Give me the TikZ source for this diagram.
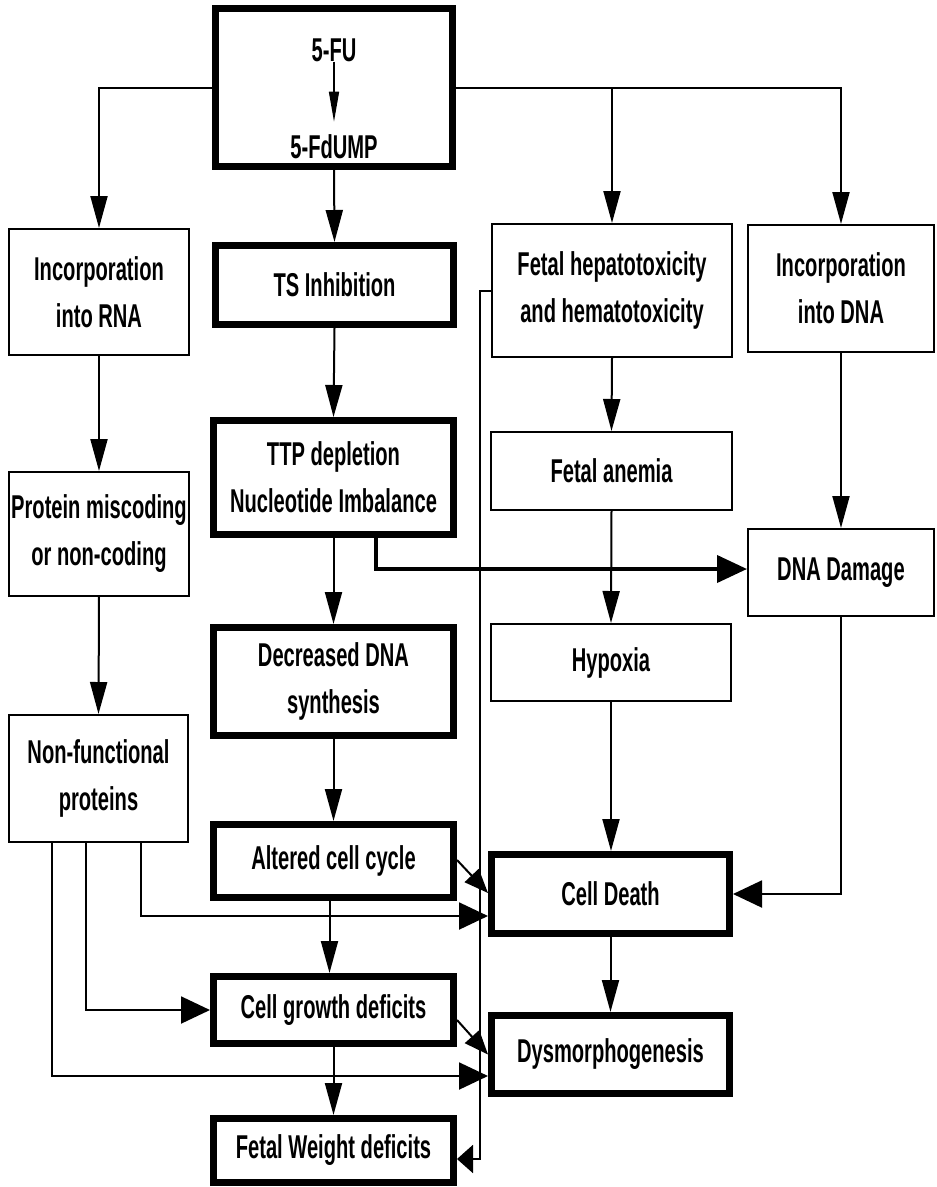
\documentclass[tikz,border=0pt]{standalone}
\usepackage{fontspec}
\setmainfont{Liberation Sans}[FakeStretch=0.61]
\usetikzlibrary{arrows.meta}
\begin{document}
\begin{tikzpicture}[x=1pt,y=-1pt,
  lbl/.style={inner sep=0pt, align=center, font=\bfseries\fontsize{33}{47}\selectfont},
  box/.style={lbl, draw=black, line width=2pt},
  tbox/.style={box, line width=7pt},
  conn/.style={line width=2pt},
  varr/.style={conn, -{Triangle[length=32pt,width=17pt]}},
  harr/.style={conn, -{Triangle[length=29pt,width=27pt]}},
  darr/.style={conn, -{Triangle[length=24pt,width=19pt]}},
  sarr/.style={conn, -{Triangle[length=16pt,width=28pt]}},
  iarr/.style={line width=1.5pt, -{Triangle[length=30pt,width=10pt]}}]
\useasboundingbox (0,0) rectangle (937,1187);
% top box
\node[tbox, minimum width=237pt, minimum height=158pt] (fu) at (334,87.5) {};
\node[lbl] (fu1) at (334,50) {5-FU};
\node[lbl] (fu2) at (334,147) {5-FdUMP};
\draw[iarr] (fu1.south) -- ([yshift=13pt]fu2.north);
% column 1
\node[box, minimum width=180pt, minimum height=126pt] (rna) at (99,292) {Incorporation\\into RNA};
\node[box, minimum width=180pt, minimum height=124pt] (prot) at (99,534) {Protein miscoding\\or non-coding};
\node[box, minimum width=179pt, minimum height=127pt] (nonf) at (98.5,778.5) {Non-functional\\proteins};
% column 2
\node[tbox, minimum width=238pt, minimum height=79pt] (ts) at (334.5,285) {TS Inhibition};
\node[tbox, minimum width=240pt, minimum height=114pt] (ttp) at (333.5,477.5) {TTP depletion\\Nucleotide Imbalance};
\node[tbox, minimum width=240pt, minimum height=108pt] (dec) at (333.5,681.5) {Decreased DNA\\synthesis};
\node[tbox, minimum width=240pt, minimum height=73pt] (alt) at (333.5,861) {Altered cell cycle};
\node[tbox, minimum width=240pt, minimum height=67pt] (cgd) at (333.5,1010) {Cell growth deficits};
\node[tbox, minimum width=240pt, minimum height=64pt] (fwd) at (333.5,1150.5) {Fetal Weight deficits};
% column 3
\node[box, minimum width=240pt, minimum height=133pt] (hep) at (612,290.5) {Fetal hepatotoxicity\\and hematotoxicity};
\node[box, minimum width=241pt, minimum height=78pt] (anem) at (611.5,471) {Fetal anemia};
\node[box, minimum width=240pt, minimum height=77pt] (hyp) at (611,662.5) {Hypoxia};
\node[tbox, minimum width=238pt, minimum height=79pt] (cd) at (610.5,894) {Cell Death};
\node[tbox, minimum width=238pt, minimum height=78pt] (dys) at (610.5,1054.5) {Dysmorphogenesis};
% column 4
\node[box, minimum width=186pt, minimum height=127pt] (idna) at (841,288.5) {Incorporation\\into DNA};
\node[box, minimum width=186pt, minimum height=87pt] (dnad) at (841,572.5) {DNA Damage};
% connectors
\draw[varr] (fu.west) -| (rna.north);
\draw[varr] (fu.east) -| (hep.north);
\draw[varr] (fu.east) -| (idna.north);
\draw[varr] (fu.south) -- (ts.north);
\draw[varr] (ts.south) -- (ttp.north);
\draw[varr] (ttp.south) -- (dec.north);
\draw[varr] (dec.south) -- (alt.north);
\draw[varr] ([xshift=-4pt]alt.south) -- ([xshift=-4pt]cgd.north);
\draw[varr] (cgd.south) -- (fwd.north);
\draw[varr] (rna.south) -- (prot.north);
\draw[varr] (prot.south) -- (nonf.north);
\draw[varr] (hep.south) -- (anem.north);
\draw[varr] (anem.south) -- (hyp.north);
\draw[varr] (hyp.south) -- (hyp.south |- cd.north);
\draw[varr] (cd.south) -- (dys.north);
\draw[varr] (idna.south) -- (dnad.north);
\draw[harr] (dnad.south) |- (cd.east);
\draw[conn, line width=4pt, -{Triangle[length=30pt,width=27pt]}] ([xshift=42.5pt]ttp.south) |- ([yshift=3.5pt]dnad.west);
\draw[sarr] (hep.west) -- ++(-11,0) |- ([yshift=-8.5pt]fwd.east);
\draw[darr] ([yshift=1pt]alt.east) -- ([yshift=1pt]cd.west);
\draw[darr] ([yshift=-10pt]cgd.east) -- (dys.west);
\draw[harr] ([xshift=42.5pt]nonf.south) |- ([yshift=-22pt]cd.west);
\draw[harr] ([xshift=-12.5pt]nonf.south) |- (cgd.west);
\draw[harr] ([xshift=-46.5pt]nonf.south) |- ([yshift=-21.5pt]dys.west);
\end{tikzpicture}
\end{document}
